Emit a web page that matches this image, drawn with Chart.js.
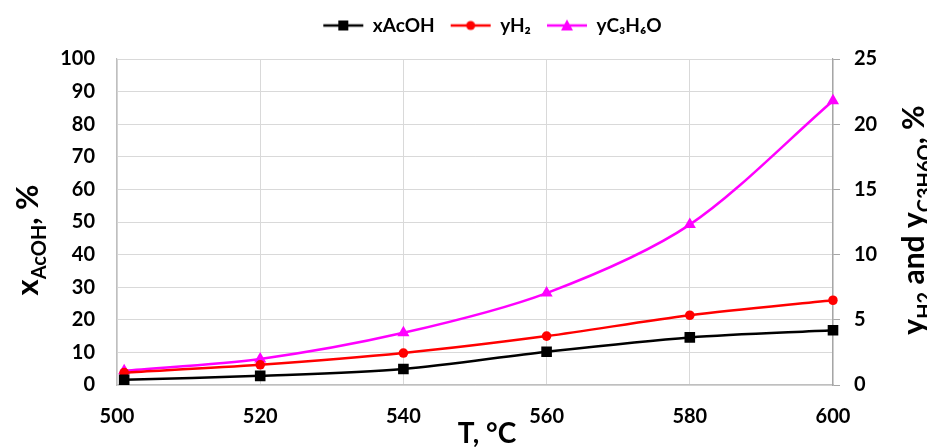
<!DOCTYPE html>
<html>
<head>
<meta charset="utf-8">
<script src="https://cdn.jsdelivr.net/npm/chart.js@4"></script>
<style>
  html, body { margin: 0; padding: 0; background: #fff; }
  #wrap { width: 927px; height: 447px; }
</style>
</head>
<body>
<div id="wrap"><canvas id="chart" width="927" height="447"></canvas></div>
<script>
// data
const temps = [501, 520, 540, 560, 580, 600];
const xAcOH = [1.6, 2.8, 4.9, 10.2, 14.6, 16.8];
const yH2 = [0.95, 1.55, 2.45, 3.75, 5.35, 6.5];
const yC3H6O = [1.1, 2.0, 4.0, 7.05, 12.3, 21.8];

const seriesNames = ['xAcOH', 'yH\u2082', 'yC\u2083H\u2086O'];
const seriesColors = ['#000000', '#ff0000', '#ff00ff'];
const seriesMarkers = ['rect', 'circle', 'triangle'];

const xRange = [500, 600, 20];
const leftRange = [0, 100, 10];
const rightRange = [0, 25, 5];

const FONT = 'Lato, "Open Sans", sans-serif';
const gridColor = '#d9d9d9';
const axisColor = '#bfbfbf';

function toPoints(xs, ys) {
    return xs.map((x, i) => ({ x: x, y: ys[i] }));
}

// legend swatch: short line with the marker in the middle
function legendSwatch(color, marker) {
    const c = document.createElement('canvas');
    c.width = 48; c.height = 16;
    const g = c.getContext('2d');
    g.strokeStyle = color;
    g.lineWidth = 2.5;
    g.beginPath(); g.moveTo(4, 8); g.lineTo(44, 8); g.stroke();
    g.fillStyle = color;
    g.beginPath();
    if (marker === 'rect') g.rect(19, 3, 10, 10);
    else if (marker === 'circle') g.arc(24, 8, 4.5, 0, Math.PI * 2);
    else { g.moveTo(24, 2); g.lineTo(30, 13); g.lineTo(18, 13); g.closePath(); }
    g.fill();
    return c;
}

// rich text (with subscripts) for the axis titles
function drawRich(ctx, parts, x, y, angle) {
    ctx.save();
    ctx.translate(x, y);
    ctx.rotate(angle);
    let total = 0;
    parts.forEach(p => {
        ctx.font = 'bold ' + p.s + 'px ' + FONT;
        p.w = ctx.measureText(p.t).width;
        total += p.w;
    });
    let cx = -total / 2;
    ctx.fillStyle = '#000';
    ctx.textBaseline = 'alphabetic';
    ctx.textAlign = 'left';
    parts.forEach(p => {
        ctx.font = 'bold ' + p.s + 'px ' + FONT;
        ctx.fillText(p.t, cx, p.sub ? p.s * 0.4 : 0);
        cx += p.w;
    });
    ctx.restore();
}

const axisTitles = {
    id: 'axisTitles',
    afterDraw(chart) {
        const ctx = chart.ctx;
        drawRich(ctx, [
            { t: 'x', s: 31 }, { t: 'AcOH', s: 20, sub: true }, { t: ', %', s: 31 }
        ], 38, 240, -Math.PI / 2);
        drawRich(ctx, [
            { t: 'y', s: 30 }, { t: 'H2', s: 20, sub: true }, { t: ' and ', s: 30 },
            { t: 'y', s: 30 }, { t: 'C3H6O', s: 20, sub: true }, { t: ', %', s: 30 }
        ], 924, 220, -Math.PI / 2);
        drawRich(ctx, [{ t: 'T, \u00b0C', s: 28 }], 487, 443, 0);
    }
};

const datasets = [
    { data: toPoints(temps, xAcOH), yAxisID: 'y', pointRadius: 7.5 },
    { data: toPoints(temps, yH2), yAxisID: 'y1', pointRadius: 4.8 },
    { data: toPoints(temps, yC3H6O), yAxisID: 'y1', pointRadius: 7 }
].map((d, i) => Object.assign(d, {
    label: seriesNames[i],
    borderColor: seriesColors[i],
    backgroundColor: seriesColors[i],
    pointBackgroundColor: seriesColors[i],
    pointBorderWidth: 0,
    pointStyle: seriesMarkers[i],
    borderWidth: 2.5,
    tension: 0.3,
    fill: false
}));

const tickFont = { family: FONT, size: 20, weight: 'bold' };

new Chart(document.getElementById('chart'), {
    type: 'line',
    data: { datasets: datasets },
    plugins: [axisTitles],
    options: {
        responsive: false,
        animation: false,
        // left padding only shifts the centred legend; the y axis width below makes up for it
        layout: { padding: { left: 58, top: 0, right: 0, bottom: 0 } },
        plugins: {
            tooltip: { enabled: false },
            legend: {
                position: 'top',
                labels: {
                    usePointStyle: true,
                    pointStyleWidth: 40,
                    padding: 16,
                    color: '#000',
                    font: { family: FONT, size: 19, weight: 'bold' },
                    generateLabels: chart => chart.data.datasets.map((ds, i) => ({
                        text: ds.label,
                        pointStyle: legendSwatch(seriesColors[i], seriesMarkers[i]),
                        fontColor: '#000',
                        datasetIndex: i,
                        lineWidth: 0
                    }))
                }
            }
        },
        scales: {
            // empty top axis, just a gap between the legend and the plot
            gap: {
                type: 'linear',
                position: 'top',
                ticks: { display: false },
                grid: { display: false },
                border: { display: false },
                afterFit: s => { s.height = 14; }
            },
            x: {
                type: 'linear',
                min: xRange[0], max: xRange[1],
                ticks: { stepSize: xRange[2], color: '#000', font: tickFont, padding: 20 },
                grid: { color: gridColor, drawTicks: false },
                border: { color: axisColor, width: 1.2 },
                afterFit: s => { s.height = 62; }
            },
            y: {
                position: 'left',
                min: leftRange[0], max: leftRange[1],
                ticks: { stepSize: leftRange[2], color: '#000', font: tickFont, padding: 22 },
                grid: { color: gridColor, drawTicks: false },
                border: { color: axisColor, width: 1.2 },
                afterFit: s => { s.width = 59; }
            },
            y1: {
                position: 'right',
                min: rightRange[0], max: rightRange[1],
                ticks: { stepSize: rightRange[2], color: '#000', font: tickFont, padding: 14 },
                grid: { drawOnChartArea: false, color: '#a6a6a6', tickLength: 7 },
                border: { color: '#a6a6a6', width: 1.2 },
                afterFit: s => { s.width = 94; }
            }
        }
    }
});
</script>
</body>
</html>
